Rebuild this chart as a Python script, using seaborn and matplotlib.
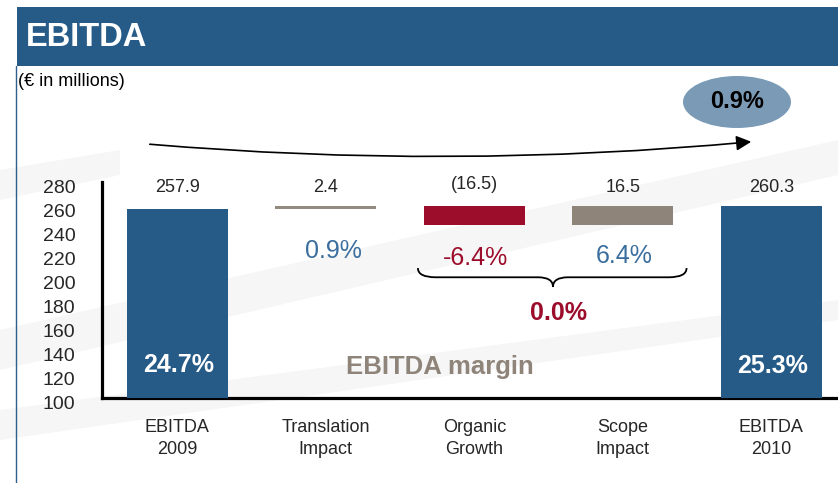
import numpy as np
import pandas as pd
import matplotlib
matplotlib.use("Agg")
import matplotlib.pyplot as plt
import seaborn as sns
from matplotlib.patches import Rectangle, Ellipse, FancyArrowPatch, PathPatch
from matplotlib.path import Path
from matplotlib.transforms import ScaledTranslation

# ---- data ----
categories = ["EBITDA\n2009", "Translation\nImpact", "Organic\nGrowth", "Scope\nImpact", "EBITDA\n2010"]
changes = [257.9, 2.4, -16.5, 16.5, 260.3]
is_total = [True, False, False, False, True]
value_labels = ["257.9", "2.4", "(16.5)", "16.5", "260.3"]
bar_colors = ["#265B88", "#938A80", "#9B0D2B", "#8E847A", "#265B88"]
margin_labels = ["24.7%", "0.9%", "-6.4%", "6.4%", "25.3%"]
margin_colors = ["white", "#3A6E9E", "#9B0D2B", "#3A6E9E", "white"]
total_margin_change = "0.0%"
overall_change = "0.9%"
yticks = [100, 120, 140, 160, 180, 200, 220, 240, 260, 280]

# waterfall geometry from data
bottoms, heights = [], []
running = 0.0
for v, tot in zip(changes, is_total):
    if tot:
        bottoms.append(0.0)
        heights.append(v)
        running = v
    else:
        new = running + v
        bottoms.append(min(running, new))
        heights.append(abs(v))
        running = new
df = pd.DataFrame({"category": categories, "height": heights})

sns.set_style("white")
plt.rcParams["font.family"] = ["Liberation Sans", "DejaVu Sans"]

W, H = 838, 483
fig = plt.figure(figsize=(W / 100, H / 100), dpi=100)
fig.patch.set_facecolor("white")

# faint background streaks
for pts in [
    [(0, 330), (838, 140), (838, 175), (0, 370)],
    [(0, 410), (838, 300), (838, 320), (0, 440)],
    [(0, 170), (120, 150), (120, 175), (0, 200)],
]:
    poly = plt.Polygon([(x / W, 1 - y / H) for x, y in pts], closed=True,
                       transform=fig.transFigure, facecolor="#F6F6F6", edgecolor="none", zorder=0)
    fig.add_artist(poly)

# header
fig.add_artist(Rectangle((17 / W, 1 - 66 / H), 1 - 17 / W, 59 / H, transform=fig.transFigure,
                         facecolor="#265B88", edgecolor="none", zorder=1))
fig.add_artist(plt.Line2D([16 / W, 16 / W], [0, 1 - 66 / H], transform=fig.transFigure,
                          color="#2E5F8E", lw=1.0))
fig.text(26 / W, 1 - 37 / H, "EBITDA", color="white", fontsize=23.5, fontweight="bold",
         va="center", ha="left")
fig.text(18 / W, 1 - 82 / H, "(\u20ac in millions)", color="black", fontsize=13,
         va="center", ha="left")

ax = fig.add_axes([101.7 / W, 1 - 398 / H, 1 - 101.7 / W, (398 - 182) / H])
ax.set_facecolor("none")

sns.barplot(data=df, x="category", y="height", bottom=np.array(bottoms), width=0.68,
            color="#265B88", ax=ax, zorder=3)
for p, c in zip(ax.patches, bar_colors):
    p.set_facecolor(c)
    p.set_edgecolor("none")

ax.set_ylim(100, 280)
ax.set_xlim(-0.51, 4.45)
ax.set_yticks(yticks)
ax.set_xlabel("")
ax.set_ylabel("")
ax.tick_params(axis="y", length=0, pad=19, labelsize=14)
ax.tick_params(axis="x", length=0, pad=15, labelsize=13)
for lab in ax.get_yticklabels():
    lab.set_transform(lab.get_transform() + ScaledTranslation(0, -4.5 / 100, fig.dpi_scale_trans))
for lab in ax.get_xticklabels():
    lab.set_linespacing(1.4)
for s in ["top", "right"]:
    ax.spines[s].set_visible(False)
for s in ["left", "bottom"]:
    ax.spines[s].set_linewidth(2.3)
    ax.spines[s].set_color("black")

# value labels above bars
for i, lab in enumerate(value_labels):
    ax.text(i, 275 if i != 2 else 278, lab, ha="center", va="center", fontsize=13, clip_on=False)

# margin labels
margin_y = [127.5, 222.5, 216.5, 218, 126.5]
for i, (lab, c) in enumerate(zip(margin_labels, margin_colors)):
    bold = is_total[i]
    ax.text(i + (0.05 if i == 1 else 0.01), margin_y[i], lab, ha="center", va="center",
            fontsize=18, color=c, fontweight="bold" if bold else "normal", zorder=5)

ax.text(1.77, 125.8, "EBITDA margin", ha="center", va="center", fontsize=18.5,
        fontweight="bold", color="#8E847A", zorder=5)
ax.text(2.57, 170.8, total_margin_change, ha="center", va="center", fontsize=18,
        fontweight="bold", color="#9B0D2B", zorder=5)

# curly brace under organic + scope
x0, xm, x1 = 1.62, 2.53, 3.43
ytop, ymid, ytip = 208.3, 200.6, 192.5
verts = [(x0, ytop), (x0, ymid), (x0 + 0.12, ymid),
         (xm - 0.1, ymid),
         (xm, ymid), (xm, ytip),
         (xm, ymid), (xm + 0.1, ymid),
         (x1 - 0.12, ymid),
         (x1, ymid), (x1, ytop)]
codes = [Path.MOVETO, Path.CURVE3, Path.CURVE3, Path.LINETO, Path.CURVE3, Path.CURVE3,
         Path.CURVE3, Path.CURVE3, Path.LINETO, Path.CURVE3, Path.CURVE3]
ax.add_patch(PathPatch(Path(verts, codes), facecolor="none", edgecolor="black", lw=1.3,
                       clip_on=False, zorder=4))

# overall arrow and ellipse
arrow = FancyArrowPatch((147 / W, 1 - 144 / H), (754 / W, 1 - 141.5 / H),
                        transform=fig.transFigure, connectionstyle="arc3,rad=0.045",
                        arrowstyle="-|>,head_length=6,head_width=3", color="black", lw=1.2,
                        mutation_scale=1.5)
fig.add_artist(arrow)
fig.add_artist(Ellipse((737 / W, 1 - 102 / H), 108 / W, 52 / H, transform=fig.transFigure,
                       facecolor="#7A9AB6", edgecolor="none"))
fig.text(737 / W, 1 - 102 / H, overall_change, ha="center", va="center", fontsize=17,
         fontweight="bold", color="black")

fig.savefig("out.png", dpi=100)
